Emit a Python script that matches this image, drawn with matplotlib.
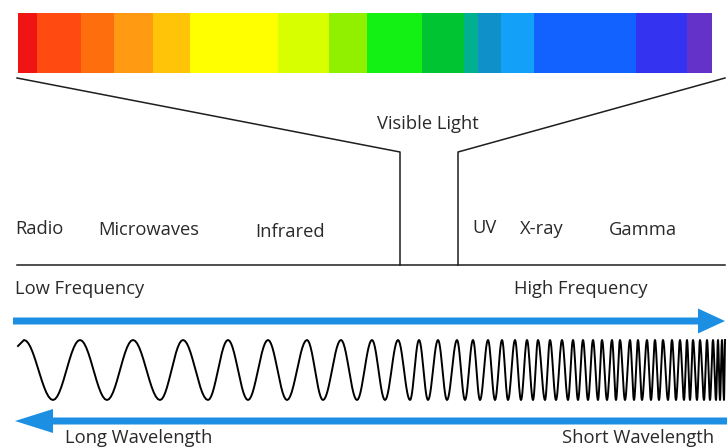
import numpy as np
import matplotlib.pyplot as plt

# spectrum bar bands (left edges ... right edge) and their colours
band_edges = [18, 37, 81, 114, 153, 190, 278, 329, 367, 422, 464, 478, 501, 534, 636, 687, 712]
band_colors = ['#F01414', '#FF4A12', '#FF6E0C', '#FF9A12', '#FFC408', '#FFFF00',
               '#D8FF00', '#90F000', '#12F014', '#00C432', '#00B090', '#1090C8',
               '#12A0F8', '#1262FF', '#3434F0', '#6432C8']

region_labels = ['Radio', 'Microwaves', 'Infrared', 'UV', 'X-ray', 'Gamma']
region_x = [15, 98, 255, 472, 520, 609]
region_y = [229, 230, 232, 228, 229, 230]

# crest positions of the wave
peak_x = [24, 80, 133, 183, 228, 268, 307, 341, 372, 398, 419, 438, 457, 473,
          488, 502, 515, 527, 538, 550, 562, 573, 583, 593, 602, 612, 620, 630,
          638, 647, 655, 663, 672, 680, 687, 693, 700, 707, 713, 718, 722, 725]
trough_x = [53, 107, 160, 208, 248, 287, 323, 357, 385, 410, 428, 447, 465, 480,
            495, 508, 521, 533, 545, 556, 568, 578, 588, 598, 607, 616, 625, 634,
            642, 651, 659, 668, 676, 684, 690, 697, 704, 710, 716, 720, 724]

W, H = 727, 447
fig = plt.figure(figsize=(W / 100, H / 100), dpi=100)
ax = fig.add_axes([0, 0, 1, 1])
ax.set_xlim(0, W)
ax.set_ylim(H, 0)
ax.axis('off')

font = ['Open Sans', 'DejaVu Sans']
tc = '#2a2a2a'
fs = 13.2

# colour bar
edges = np.array(band_edges)
ax.barh(43, np.diff(edges), left=edges[:-1], height=60, color=band_colors,
        edgecolor='none')

# funnel lines
lc = '#1e1e1e'
ax.plot([17, 400, 400], [78, 152, 265], color=lc, lw=1.1)
ax.plot([725, 458, 458], [78, 152, 265], color=lc, lw=1.1)
ax.plot([17, 725], [265, 265], color=lc, lw=1.1)

ax.text(428, 124, 'Visible Light', ha='center', va='center', fontsize=fs,
        color=tc, family=font)
for lab, x, y in zip(region_labels, region_x, region_y):
    ax.text(x, y, lab, ha='left', va='center', fontsize=fs, color=tc, family=font)

ax.text(15, 289, 'Low Frequency', ha='left', va='center', fontsize=fs,
        color=tc, family=font)
ax.text(514, 289, 'High Frequency', ha='left', va='center', fontsize=fs,
        color=tc, family=font)

# arrows
blue = '#1C8FE2'
ax.arrow(13, 321, 712, 0, width=7, head_width=25, head_length=27,
         length_includes_head=True, color=blue, lw=0)
ax.arrow(727, 421, -712, 0, width=7, head_width=24, head_length=38,
         length_includes_head=True, color=blue, lw=0)

ax.text(65, 438, 'Long Wavelength', ha='left', va='center', fontsize=fs,
        color=tc, family=font)
ax.text(562, 438, 'Short Wavelength', ha='left', va='center', fontsize=fs,
        color=tc, family=font)

# wave: half-cosine between successive crests
crests = sorted([(x, -1) for x in peak_x] + [(x, 1) for x in trough_x])
wx, wy = [], []
for (x0, s0), (x1, s1) in zip(crests[:-1], crests[1:]):
    t = np.linspace(0, np.pi, 14)
    wx.extend(x0 + (x1 - x0) * t / np.pi)
    wy.extend(370 + 30 * s0 * np.cos(t))
ax.plot([18] + wx, [346] + wy, color='black', lw=1.4)

fig.savefig('out.png', dpi=100)
